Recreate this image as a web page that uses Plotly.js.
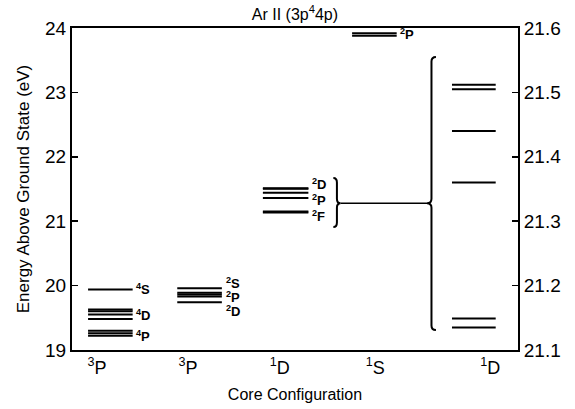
<!DOCTYPE html>
<html>
<head>
<meta charset="utf-8">
<script src="https://cdn.plot.ly/plotly-3.0.1.min.js"></script>
<style>html,body{margin:0;padding:0;background:#fff;}#chart{width:575px;height:409px;}</style>
</head>
<body>
<div id="chart"></div>
<script>
// ---- data (energies in eV) ----
const coreLabels = ['<sup>3</sup>P', '<sup>3</sup>P', '<sup>1</sup>D', '<sup>1</sup>S', '<sup>1</sup>D'];
const quartetLevels = [19.22, 19.26, 19.30, 19.48, 19.55, 19.60, 19.63, 19.94];   // 3P core, quartets
const doubletLevels = [19.74, 19.83, 19.86, 19.89, 19.96];                        // 3P core, doublets
const d1Levels = [21.135, 21.149, 21.36, 21.44, 21.505, 21.512];                  // 1D core
const s1Levels = [23.88, 23.92];                                                   // 1S core
const leftTicks = [19, 20, 21, 22, 23, 24];
const rightTicks = [21.1, 21.2, 21.3, 21.4, 21.5, 21.6];
const termLabels1 = ['<sup>4</sup>S', '<sup>4</sup>D', '<sup>4</sup>P'];
const termLabels2 = ['<sup>2</sup>S', '<sup>2</sup>P', '<sup>2</sup>D'];
const termLabels3 = ['<sup>2</sup>D', '<sup>2</sup>P', '<sup>2</sup>F'];
const termLabels4 = ['<sup>2</sup>P'];

// ---- layout helpers (positions/styles) ----
const colSpan = [[0.18, 0.68], [1.18, 1.68], [2.14, 2.65], [3.14, 3.64], [4.26, 4.75]];
const tickPos = [0.28, 1.30, 2.33, 3.40, 4.69];
const yMin = 19, yMax = 24, rMin = 21.1, rMax = 21.6;
const FAM = 'Arial, Liberation Sans, Helvetica, sans-serif';

function levelTrace(levels, span, axis) {
  const xs = [], ys = [];
  levels.forEach(e => { xs.push(span[0], span[1], null); ys.push(e, e, null); });
  return {x: xs, y: ys, mode: 'lines', type: 'scatter', yaxis: axis || 'y',
          line: {color: '#000', width: 2}, hoverinfo: 'skip', showlegend: false};
}

const traces = [
  levelTrace(quartetLevels, colSpan[0]),
  levelTrace(doubletLevels, colSpan[1]),
  levelTrace(d1Levels, colSpan[2]),
  levelTrace(s1Levels, colSpan[3]),
  levelTrace(d1Levels, colSpan[4], 'y2')
];

function lab(text, x, y) {
  return {text: '<b>' + text + '</b>', x: x, y: y, xref: 'x', yref: 'y', xanchor: 'left', yanchor: 'middle',
          showarrow: false, font: {family: FAM, size: 13, color: '#000'}};
}
const annotations = [
  lab(termLabels1[0], 0.70, quartetLevels[7]),
  lab(termLabels1[1], 0.70, 19.55),
  lab(termLabels1[2], 0.70, 19.22),
  lab(termLabels2[0], 1.70, 20.04),
  lab(termLabels2[1], 1.70, 19.82),
  lab(termLabels2[2], 1.70, 19.60),
  lab(termLabels3[0], 2.67, 21.57),
  lab(termLabels3[1], 2.67, 21.33),
  lab(termLabels3[2], 2.67, 21.08),
  lab(termLabels4[0], 3.66, s1Levels[1] - 0.01)
];

// brackets
const r2e = r => yMin + (r - rMin) * (yMax - yMin) / (rMax - rMin);
const tipE = r2e(21.328);
const rY = 0.07;
const sbX = 2.93, sbW = 0.04, sbTop = 21.67, sbBot = 20.91;
const smallBracket = `M ${sbX} ${sbTop} Q ${sbX + sbW} ${sbTop} ${sbX + sbW} ${sbTop - rY} L ${sbX + sbW} ${tipE + rY} Q ${sbX + sbW} ${tipE} ${sbX + 2 * sbW} ${tipE} Q ${sbX + sbW} ${tipE} ${sbX + sbW} ${tipE - rY} L ${sbX + sbW} ${sbBot + rY} Q ${sbX + sbW} ${sbBot} ${sbX} ${sbBot}`;
const bbX = 4.03, bbW = 0.05, bbTop = 23.55, bbBot = 19.31;
const bigBracket = `M ${bbX + bbW} ${bbTop} Q ${bbX} ${bbTop} ${bbX} ${bbTop - rY} L ${bbX} ${tipE + rY} Q ${bbX} ${tipE} ${bbX - bbW} ${tipE} Q ${bbX} ${tipE} ${bbX} ${tipE - rY} L ${bbX} ${bbBot + rY} Q ${bbX} ${bbBot} ${bbX + bbW} ${bbBot}`;

const shapes = [
  {type: 'path', path: smallBracket, xref: 'x', yref: 'y', line: {color: '#000', width: 2}},
  {type: 'path', path: bigBracket, xref: 'x', yref: 'y', line: {color: '#000', width: 2}},
  {type: 'line', x0: sbX + 2 * sbW, x1: bbX - bbW, y0: tipE, y1: tipE, xref: 'x', yref: 'y', line: {color: '#000', width: 1.5}}
];

const tickFont = {family: FAM, size: 19, color: '#000'};
const layout = {
  width: 575, height: 409,
  margin: {l: 72, r: 57, t: 28, b: 59},
  paper_bgcolor: '#fff', plot_bgcolor: '#fff',
  showlegend: false,
  font: {family: FAM, color: '#000'},
  title: {text: 'Ar II (3p<sup>4</sup>4p)', x: 0.513, xanchor: 'center', y: 0.978, yanchor: 'top',
          font: {family: FAM, size: 16, color: '#000'}},
  xaxis: {range: [0, 5], tickvals: tickPos, ticktext: coreLabels, ticks: '', showgrid: false, zeroline: false,
          showline: true, mirror: true, linecolor: '#000', linewidth: 2,
          tickfont: {family: FAM, size: 18, color: '#000'},
          title: {text: 'Core Configuration', standoff: 12, font: {family: FAM, size: 16, color: '#000'}}},
  yaxis: {range: [yMin, yMax], tickvals: leftTicks, ticks: 'inside', ticklen: 6, tickwidth: 1.5, tickcolor: '#000',
          showgrid: false, zeroline: false, showline: true, linecolor: '#000', linewidth: 2,
          tickfont: tickFont,
          title: {text: 'Energy Above Ground State (eV)', standoff: 11, font: {family: FAM, size: 17, color: '#000'}}},
  yaxis2: {range: [rMin, rMax], tickvals: rightTicks, ticktext: rightTicks.map(v => v.toFixed(1)),
           overlaying: 'y', side: 'right', ticks: 'inside', ticklen: 6, tickwidth: 1.5, tickcolor: '#000',
           showgrid: false, zeroline: false, showline: true, linecolor: '#000', linewidth: 2,
           tickfont: tickFont},
  annotations: annotations,
  shapes: shapes
};

Plotly.newPlot('chart', traces, layout, {staticPlot: true, displayModeBar: false});
</script>
</body>
</html>
